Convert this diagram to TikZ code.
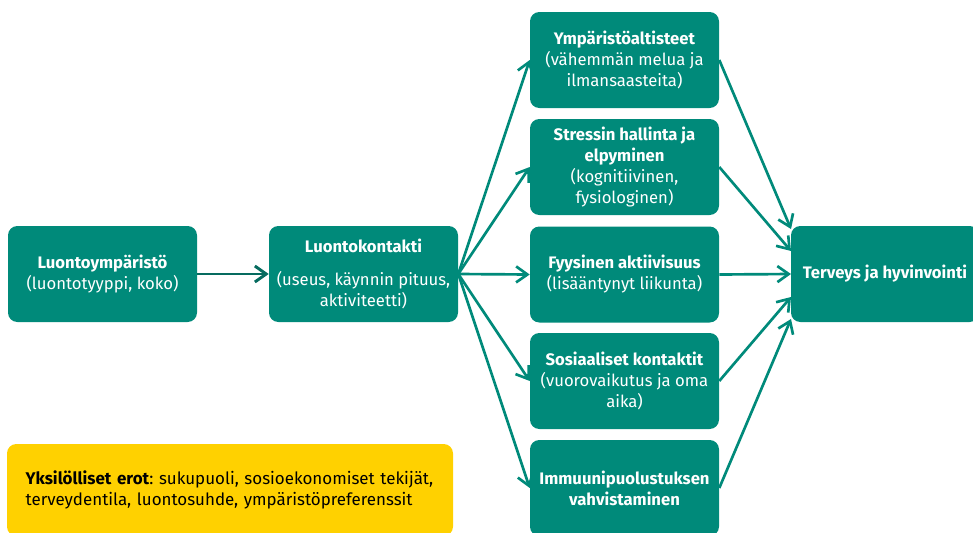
\documentclass[tikz,border=0pt]{standalone}
\usepackage{fontspec}
\setmainfont{Fira Sans}
\usetikzlibrary{arrows.meta}
\definecolor{teal1}{HTML}{008A7A}
\definecolor{tealdark}{HTML}{066B5F}
\definecolor{yel}{HTML}{FFD100}
\tikzset{
  box/.style={fill=teal1, rounded corners=7pt, text=white, align=center, inner sep=0pt,
    minimum height=72pt, font=\fontsize{12.5}{15.75}\selectfont},
  colbox/.style={box, minimum width=141.75pt},
  conn/.style={draw=teal1, line width=2pt, -{Straight Barb[length=8.5pt,width=12pt]}},
  conndark/.style={draw=tealdark, line width=2.2pt, -{Straight Barb[length=8.5pt,width=12pt]}}
}
\begin{document}
\frenchspacing
\begin{tikzpicture}[x=0.75pt,y=-0.75pt]
\useasboundingbox (0,0) rectangle (973,532);
\node[box, minimum width=141.75pt] (a) at (102.5,274) {\textbf{Luontoympäristö}\\(luontotyyppi, koko)};
\node[box, minimum width=141.75pt] (b) at (363.5,274) {\textbf{Luontokontakti}\\[9pt](useus, käynnin pituus,\\aktiviteetti)};
\node[colbox] (c1) at (624.5,60) {\textbf{Ympäristöaltisteet}\\(vähemmän melua ja\\ilmansaasteita)};
\node[colbox] (c2) at (624.5,167) {\textbf{Stressin hallinta ja}\\\textbf{elpyminen}\\(kognitiivinen,\\fysiologinen)};
\node[colbox] (c3) at (624.5,274.5) {\textbf{Fyysinen aktiivisuus}\\(lisääntynyt liikunta)};
\node[colbox] (c4) at (624.5,381) {\textbf{Sosiaaliset kontaktit}\\(vuorovaikutus ja oma\\aika)};
\node[colbox] (c5) at (624.5,488) {\textbf{Immuunipuolustuksen}\\\textbf{vahvistaminen}};
\node[box, minimum width=141pt] (t) at (885,274) {\textbf{Terveys ja hyvinvointi}};
\node[box, fill=yel, text=black, minimum width=334.5pt, minimum height=69pt, align=left,
  font=\fontsize{12.7}{15.75}\selectfont, text width=306.5pt, inner xsep=14pt] (y) at (230,490)
  {\textbf{Yksilölliset erot}: sukupuoli, sosioekonomiset tekijät,\\terveydentila, luontosuhde, ympäristöpreferenssit};
\coordinate (t1) at (791,229);
\coordinate (t2) at (791,251);
\coordinate (t3) at (791,274);
\coordinate (t4) at (791,297);
\coordinate (t5) at (791,319);
\draw[conndark] (a.east) -- (b.west);
\foreach \i in {1,...,5} {
  \draw[conn] (b.east) -- (c\i.west);
  \draw[conn] (c\i.east) -- (t\i);
}
\end{tikzpicture}
\end{document}
